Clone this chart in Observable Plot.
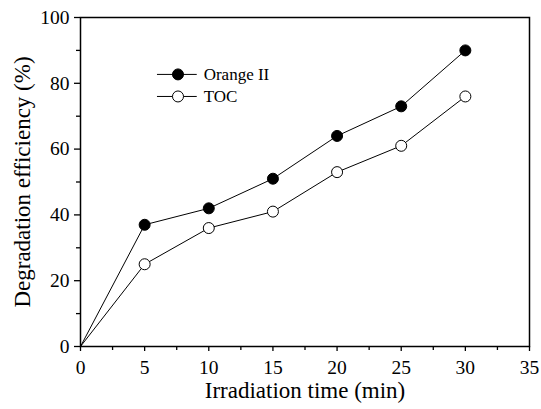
<!DOCTYPE html>
<html>
<head>
<meta charset="utf-8">
<script src="https://cdn.jsdelivr.net/npm/d3@7"></script>
<script src="https://cdn.jsdelivr.net/npm/@observablehq/plot@0.6"></script>
<style>
  html, body { margin: 0; padding: 0; background: #fff; }
  svg text { font-family: "Liberation Serif", "Times New Roman", serif !important; }
</style>
</head>
<body>
<div id="chart"></div>
<script>
const times = [0, 5, 10, 15, 20, 25, 30];
const orange = [0, 37, 42, 51, 64, 73, 90];
const toc = [0, 25, 36, 41, 53, 61, 76];
const seriesNames = ["Orange II", "TOC"];
const xTicks = [0, 5, 10, 15, 20, 25, 30, 35];
const xMinor = [2.5, 7.5, 12.5, 17.5, 22.5, 27.5, 32.5];
const yTicks = [0, 20, 40, 60, 80, 100];
const yMinor = [10, 30, 50, 70, 90];
const xLabel = "Irradiation time (min)";
const yLabel = "Degradation efficiency (%)";
// legend placement in data units
const legendX = [6.0, 7.6, 9.1, 9.6];
const legendY = [82.7, 76.0];

const FONT = "'Liberation Serif', 'Times New Roman', serif";

const data = [];
times.forEach((t, i) => {
  data.push({series: seriesNames[0], x: t, y: orange[i]});
  data.push({series: seriesNames[1], x: t, y: toc[i]});
});
const pts = data.filter(d => d.x > 0);
const legend = seriesNames.map((s, i) => ({series: s, y: legendY[i]}));
const fillFor = s => s === "Orange II" ? "black" : "white";

const chart = Plot.plot({
  width: 541,
  height: 409,
  marginLeft: 80,
  marginRight: 12,
  marginTop: 17,
  marginBottom: 63,
  x: {domain: [0, 35]},
  y: {domain: [0, 100]},
  style: {fontFamily: FONT, color: "black", background: "white"},
  marks: [
    Plot.lineY(data, {x: "x", y: "y", z: "series", stroke: "black", strokeWidth: 1}),
    Plot.dot(pts, {x: "x", y: "y", r: 5.5, stroke: "black", strokeWidth: 1, fill: d => fillFor(d.series)}),
    // legend
    Plot.ruleY(legend, {x1: legendX[0], x2: legendX[2], y: "y", stroke: "black", strokeWidth: 1}),
    Plot.dot(legend, {x: legendX[1], y: "y", r: 5.5, stroke: "black", strokeWidth: 1, fill: d => fillFor(d.series)}),
    Plot.text(legend, {x: legendX[3], y: "y", text: "series", textAnchor: "start", fontSize: 17, fontFamily: FONT, fill: "black"}),
    // axes
    Plot.axisX({ticks: xTicks, tickSize: 5, tickPadding: 9, fontSize: 19.5, fontFamily: FONT, label: null, strokeWidth: 1.3}),
    Plot.axisX({ticks: xMinor, tickSize: 4, tickFormat: () => "", label: null, strokeWidth: 1.3}),
    Plot.axisY({ticks: yTicks, tickSize: 6, tickPadding: 5, fontSize: 19.5, fontFamily: FONT, label: null, strokeWidth: 1.3}),
    Plot.axisY({ticks: yMinor, tickSize: 4, tickFormat: () => "", label: null, strokeWidth: 1.3}),
    Plot.frame({stroke: "black", strokeWidth: 1.5}),
    Plot.text([xLabel], {frameAnchor: "bottom", dy: 51, fontSize: 23, fontFamily: FONT, fill: "black"}),
    Plot.text([yLabel], {frameAnchor: "left", textAnchor: "middle", dx: -58, rotate: -90, fontSize: 23, fontFamily: FONT, fill: "black"})
  ]
});
document.getElementById("chart").appendChild(chart);
</script>
</body>
</html>
